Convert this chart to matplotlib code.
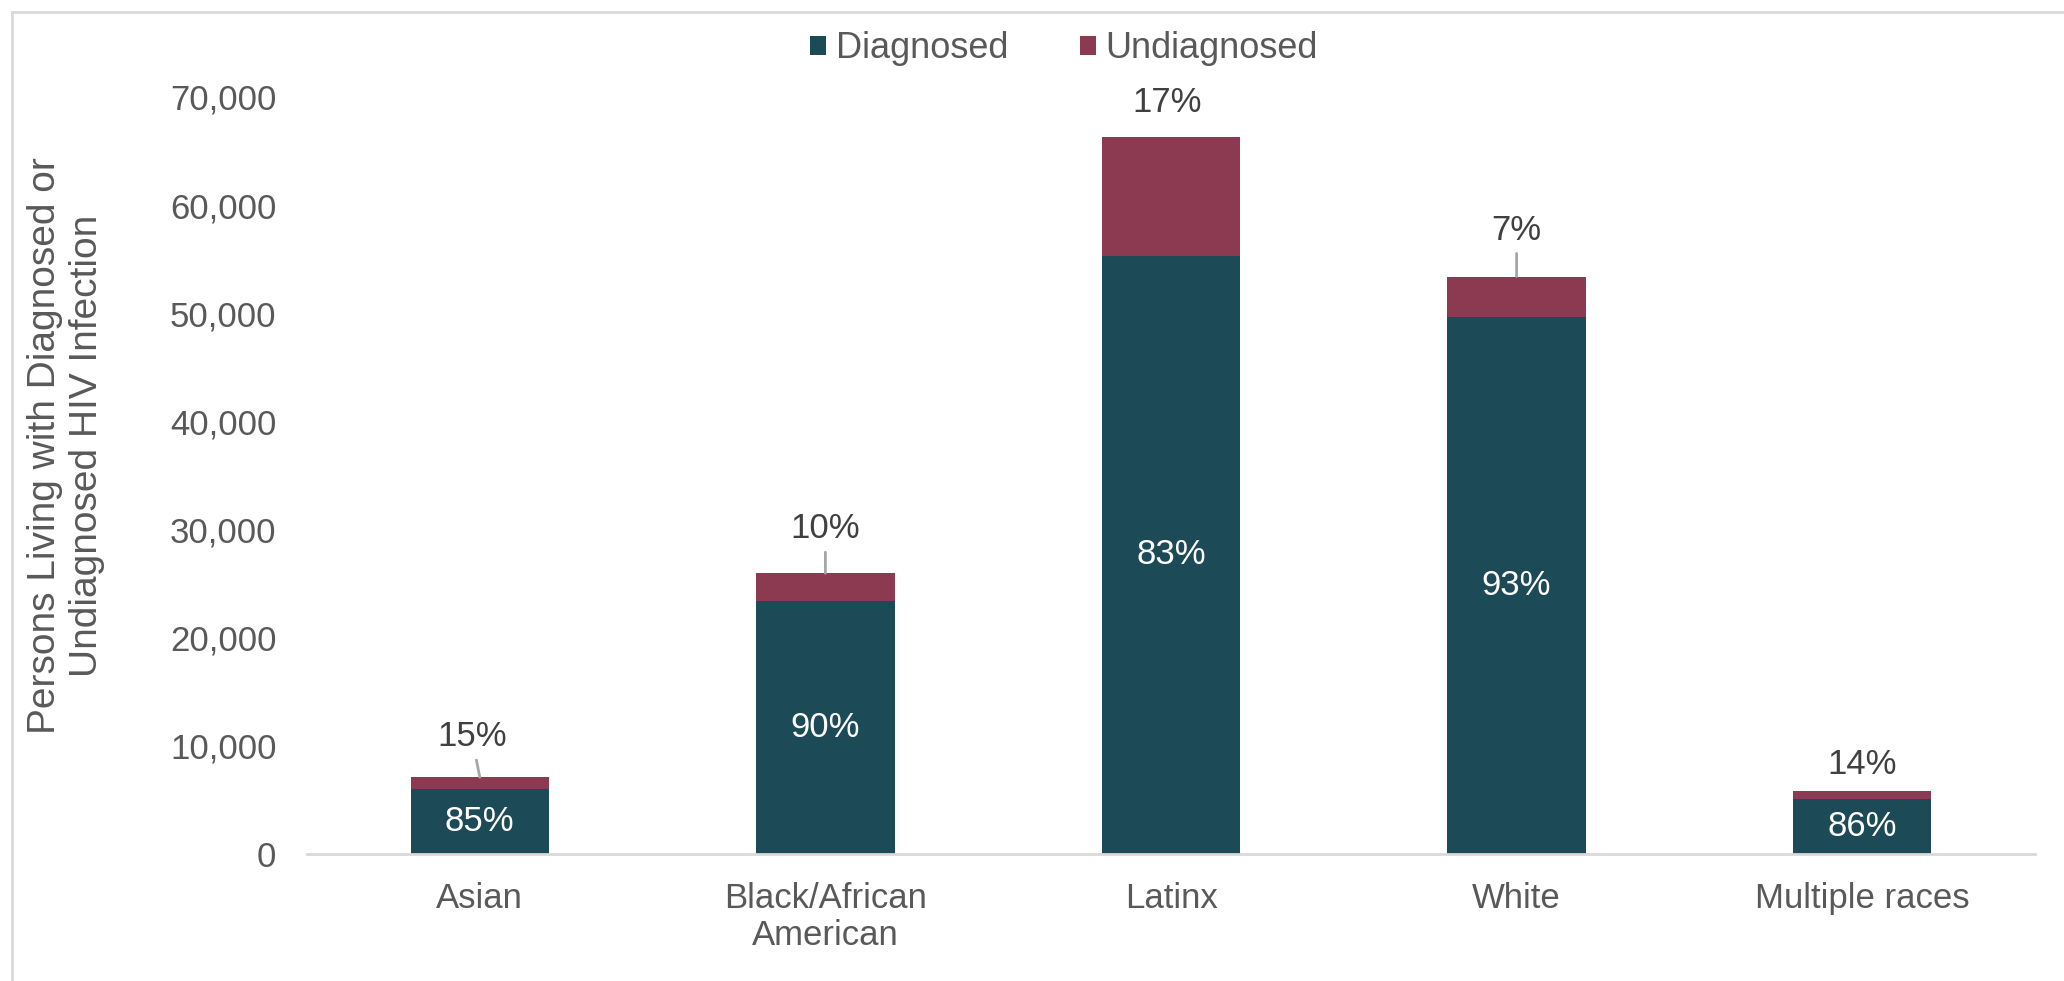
import numpy as np
import matplotlib
matplotlib.use('Agg')
import matplotlib.pyplot as plt
from matplotlib.patches import Rectangle

plt.rcParams['font.family'] = ['Liberation Sans', 'DejaVu Sans']

categories = ['Asian', 'Black/African\nAmerican', 'Latinx', 'White', 'Multiple races']
diagnosed = [6040, 23370, 55300, 49700, 5050]
undiagnosed = [1060, 2590, 11000, 3700, 820]

# where the undiagnosed share label sits, in pixels from the bar top
lab_dx = [-8, 0, -4, 0, 0]
lab_dy = [31, 35, 25, 37, 17]
leader = [True, True, False, True, False]

c_diag = '#1d4a57'
c_undiag = '#8b3a52'
grey = '#595959'

diagnosed = np.array(diagnosed)
undiagnosed = np.array(undiagnosed)
total = diagnosed + undiagnosed
pct_diag = np.round(diagnosed / total * 100).astype(int)
pct_undiag = 100 - pct_diag

fig = plt.figure(figsize=(20.64, 9.81), dpi=100)
ax = fig.add_axes([307/2064, 1-854/981, (2035-307)/2064, (854-97)/981])

x = np.arange(len(categories))
ax.bar(x, diagnosed, width=0.4, color=c_diag, label='Diagnosed', zorder=2)
ax.bar(x, undiagnosed, width=0.4, bottom=diagnosed, color=c_undiag, label='Undiagnosed', zorder=2)

for i in range(len(x)):
    ax.text(x[i], diagnosed[i]/2, f'{pct_diag[i]}%', ha='center', va='center',
            color='white', fontsize=25)
    ap = dict(arrowstyle='-', color='#a6a6a6', lw=2, shrinkA=3, shrinkB=0) if leader[i] else None
    ax.annotate(f'{pct_undiag[i]}%', xy=(x[i], total[i]), xytext=(lab_dx[i], lab_dy[i]),
                textcoords='offset pixels', ha='center', va='baseline',
                color='#404040', fontsize=25, arrowprops=ap)

ax.set_xlim(-0.5, len(categories)-0.5)
ax.set_ylim(0, 70000)
ax.set_yticks(np.arange(0, 70001, 10000))
ax.set_yticklabels([f'{v:,}' for v in range(0, 70001, 10000)])
ax.set_xticks(x)
ax.set_xticklabels(categories, linespacing=1.15)
ax.tick_params(axis='y', length=0, pad=22, labelsize=25, labelcolor=grey)
ax.tick_params(axis='x', length=0, pad=20, labelsize=25, labelcolor=grey)
for s in ['top', 'right', 'left']:
    ax.spines[s].set_visible(False)
ax.spines['bottom'].set_color('#d9d9d9')
ax.spines['bottom'].set_linewidth(2)

fig.text(66/2064, 1-446/981, 'Persons Living with Diagnosed or\nUndiagnosed HIV Infection',
         rotation=90, ha='center', va='center', multialignment='center',
         fontsize=28, color=grey, linespacing=1.2)

fig.legend(loc='center', bbox_to_anchor=(1064/2064, 1-49/981), ncol=2, frameon=False,
           fontsize=26, labelcolor=grey, handlelength=0.45, handleheight=0.45,
           handletextpad=0.25, columnspacing=2.0)

# chart border (only top and left edges fall inside the image)
fig.patches.append(Rectangle((12/2064, -0.1), 1.2, 1-12/981+0.1, transform=fig.transFigure,
                             fill=False, edgecolor='#d9d9d9', lw=2))

fig.savefig('out.png', dpi=100, facecolor='white')
